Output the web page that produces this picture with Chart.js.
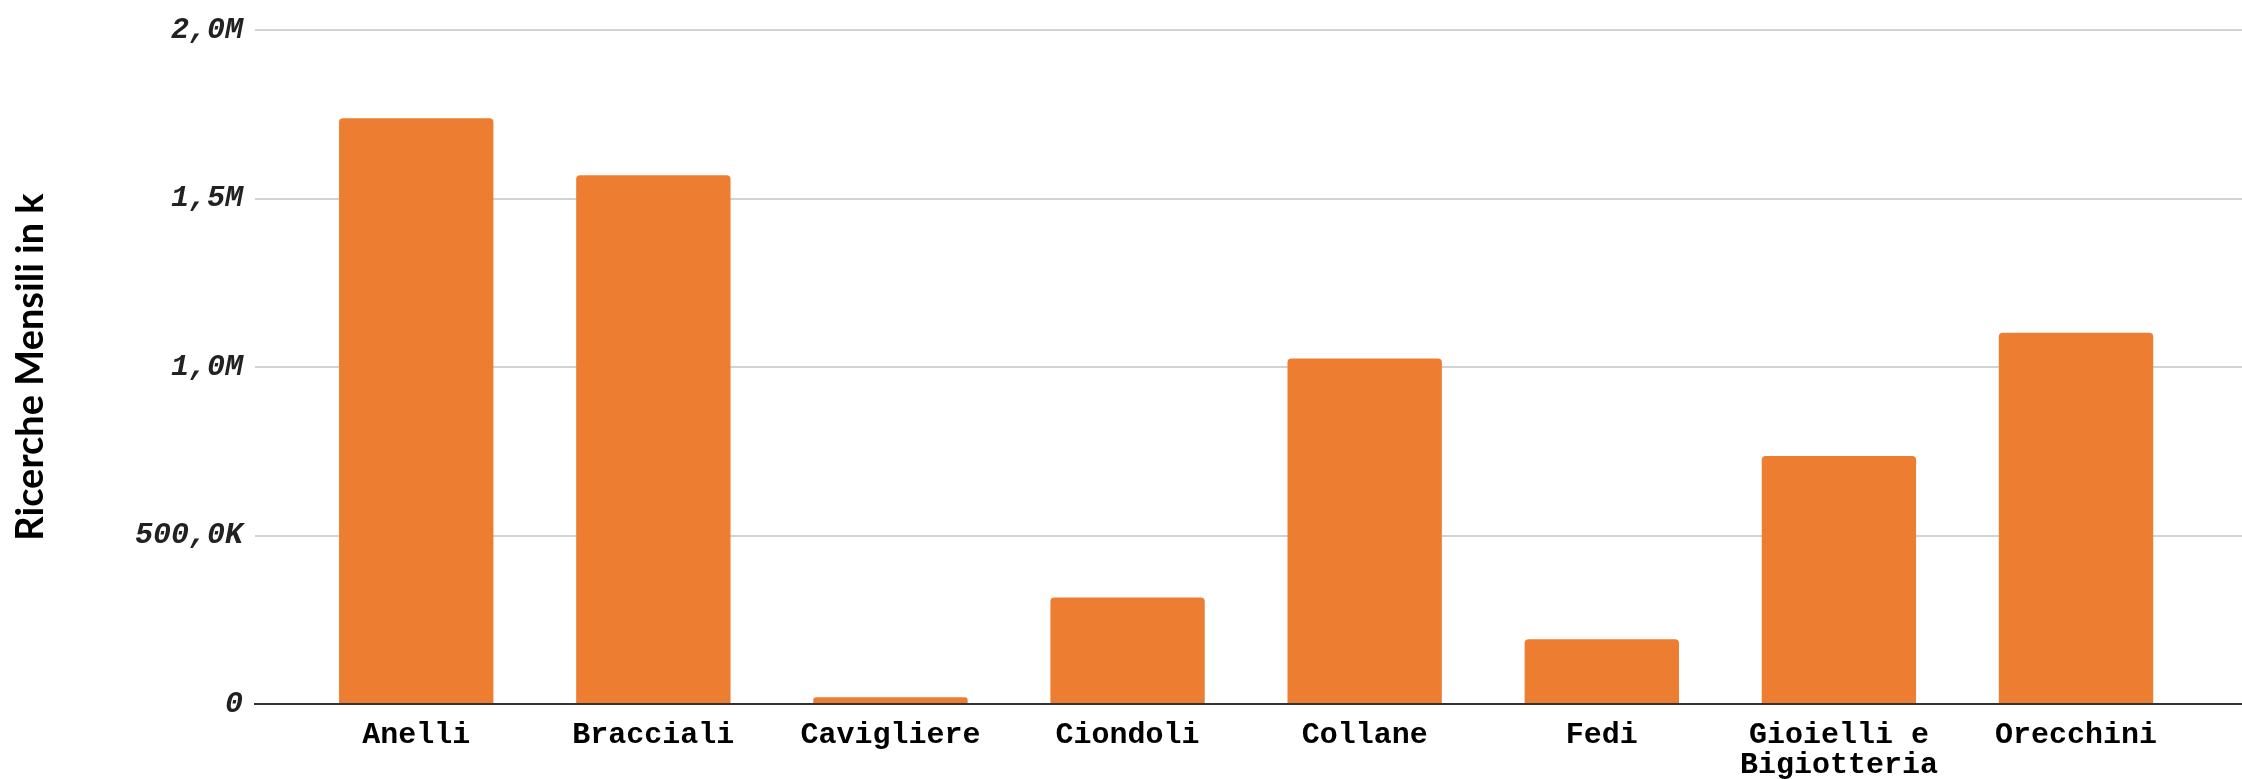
<!DOCTYPE html>
<html>
<head>
<meta charset="utf-8">
<script src="https://cdn.jsdelivr.net/npm/chart.js@4.4.1/dist/chart.umd.min.js"></script>
<style>
  html, body { margin: 0; padding: 0; background: #fff; }
  #wrap { width: 2242px; height: 779px; position: relative; }
</style>
</head>
<body>
<div id="wrap"><canvas id="chart"></canvas></div>
<script>
// categorie (la penultima va su due righe)
const categories = ['Anelli', 'Bracciali', 'Cavigliere', 'Ciondoli', 'Collane', 'Fedi', ['Gioielli e', 'Bigiotteria'], 'Orecchini'];
// ricerche mensili
const searches = [1738000, 1569000, 20000, 316000, 1025000, 192000, 736000, 1102000];
// etichette asse y, una ogni 500K
const yTicks = [0, 500000, 1000000, 1500000, 2000000];
const yTickLabels = ['0', '500,0K', '1,0M', '1,5M', '2,0M'];

const monoFont = "'Courier New', 'Liberation Mono', monospace";

const ctx = document.getElementById('chart').getContext('2d');
new Chart(ctx, {
    type: 'bar',
    data: {
        datasets: [{
            label: 'Ricerche Mensili',
            data: searches.map((v, i) => ({ x: i, y: v })),
            backgroundColor: '#ED7D31',
            borderRadius: 4,
            barPercentage: 0.651,
            categoryPercentage: 1
        }]
    },
    options: {
        responsive: true,
        maintainAspectRatio: false,
        animation: false,
        layout: { padding: { top: 21, left: 0, right: 0, bottom: 0 } },
        plugins: {
            legend: { display: false },
            tooltip: { enabled: false }
        },
        scales: {
            x: {
                type: 'linear',
                offset: false,
                min: -0.68,
                max: 7.7,
                grid: { display: false, drawTicks: false },
                border: { display: true, color: '#333', width: 2 },
                afterFit: (scale) => { scale.height = 75; },
                ticks: {
                    stepSize: 1,
                    includeBounds: false,
                    autoSkip: false,
                    maxRotation: 0,
                    padding: 16,
                    color: '#000',
                    font: { family: monoFont, size: 30, weight: 'bold', lineHeight: 1 },
                    callback: (value) => categories[value] !== undefined ? categories[value] : ''
                }
            },
            y: {
                min: 0,
                max: 2000000,
                afterFit: (scale) => { scale.width = 255; },
                afterBuildTicks: (scale) => { scale.ticks = yTicks.map(v => ({ value: v })); },
                grid: {
                    drawTicks: false,
                    lineWidth: 2,
                    color: (c) => c.tick && c.tick.value === 0 ? '#333' : '#d3d3d3'
                },
                border: { display: false },
                ticks: {
                    padding: 12,
                    color: '#222',
                    font: { family: monoFont, size: 30, weight: 'bold', style: 'italic' },
                    callback: (value) => yTickLabels[yTicks.indexOf(value)]
                },
                title: {
                    display: true,
                    text: 'Ricerche Mensili in k',
                    color: '#000',
                    padding: { top: 8, bottom: 0 },
                    font: { family: 'Lato', size: 38, weight: 'bold' }
                }
            }
        }
    }
});
</script>
</body>
</html>
